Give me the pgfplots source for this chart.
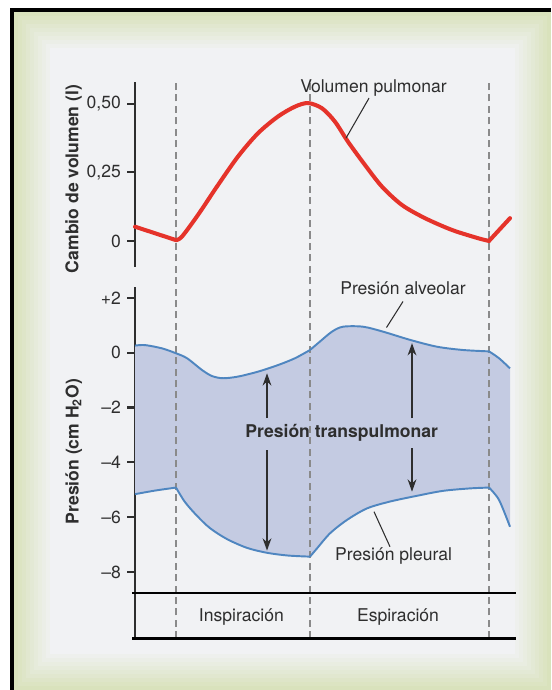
\documentclass[border=0pt]{standalone}
\usepackage{fontspec}
\setmainfont{TeX Gyre Heros}
\usepackage{pgfplots}
\pgfplotsset{compat=1.18}
\usetikzlibrary{arrows.meta}

\definecolor{redc}{HTML}{E5332A}
\definecolor{bluec}{HTML}{4F86C0}
\definecolor{fillc}{HTML}{C4CBE2}
\definecolor{bgc}{HTML}{F1F2F4}
\definecolor{bge}{HTML}{D9E2BC}
\definecolor{txt}{HTML}{2E2E2E}
\definecolor{dashc}{HTML}{8A8A8A}

\pgfplotsset{
  panel/.style={
    scale only axis, width=7.62cm,
    xmin=0, xmax=381,
    axis x line=none, axis y line*=left,
    axis line style={txt, line width=1.2pt},
    tick align=outside, major tick length=0.16cm,
    tick style={txt, line width=1.2pt},
    yticklabel style={font=\fontsize{10}{12}\selectfont, text=txt},
    ylabel style={font=\fontsize{10}{12}\selectfont\bfseries, text=txt, anchor=center},
    clip=false,
  },
}

\begin{document}
\begin{tikzpicture}
\useasboundingbox (0,0) rectangle (11.02cm,13.8cm);
\clip (0,0) rectangle (11.02cm,13.8cm);
% page background with green vignette and black frame
\begin{scope}[x=0.02cm,y=0.02cm]
\fill[white] (0,0) rectangle (551,690);
\foreach \i in {0,...,9}{
  \pgfmathtruncatemacro\p{\i*11.1}
  \fill[bgc!\p!bge] (14+\i*4,\i*4) rectangle (551-\i*4,678-\i*4);
}
\fill[black] (10,678) rectangle (551,682);
\fill[black] (10,0) rectangle (14,682);
\end{scope}

% pressure panel
\begin{axis}[panel,
  at={(2.7cm,1.034cm)}, anchor=south west, height=7.032cm,
  ymin=-10.42, ymax=2.41,
  ytick={-8,-6,-4,-2,0,2}, yticklabels={--8,--6,--4,--2,0,+2},
  ylabel={Presión (cm H\textsubscript{2}O)},
  ylabel style={at={(axis description cs:-0.161,0.531)}},
]
\addplot[fill=fillc, draw=none] coordinates {
  (0,0.26) (10,0.28) (27,0.16) (41,-0.02) (52,-0.2) (67,-0.63) (77,-0.85) (88,-0.93)
  (103,-0.87) (123,-0.69) (143,-0.45) (160,-0.2) (175,0.1) (185,0.41) (197,0.77)
  (208,0.95) (228,0.95) (248,0.77) (275,0.47) (302,0.22) (328,0.10) (354,0.05)
  (364,-0.2) (375,-0.57)
  (375,-6.35) (364,-5.37) (354,-4.92) (335,-4.95) (308,-5.04) (282,-5.22) (255,-5.43)
  (232,-5.68) (212,-6.1) (195,-6.59) (182,-7.14) (175,-7.44) (153,-7.4) (132,-7.3)
  (112,-7.12) (92,-6.8) (75,-6.4) (62,-5.95) (50,-5.45) (41,-4.92) (20,-5.03) (0,-5.16)
};
\draw[dashc, line width=0.7pt, dash pattern=on 4pt off 2.5pt] (axis cs:41,-10.42) -- (axis cs:41,10.0);
\draw[dashc, line width=0.7pt, dash pattern=on 4pt off 2.5pt] (axis cs:175,-10.42) -- (axis cs:175,10.0);
\draw[dashc, line width=0.7pt, dash pattern=on 4pt off 2.5pt] (axis cs:354,-10.42) -- (axis cs:354,10.0);
% alveolar pressure
\addplot[bluec, line width=1.1pt, smooth] coordinates {
  (0,0.26) (10,0.28) (27,0.16) (41,-0.02) (52,-0.2) (67,-0.63) (77,-0.85) (88,-0.93)
  (103,-0.87) (123,-0.69) (143,-0.45) (160,-0.2) (175,0.1)};
\addplot[bluec, line width=1.1pt, smooth] coordinates {
  (175,0.1) (185,0.41) (197,0.77) (208,0.95) (228,0.95) (248,0.77) (275,0.47)
  (302,0.22) (328,0.10) (354,0.05)};
\addplot[bluec, line width=1.1pt, smooth] coordinates {(354,0.05) (364,-0.2) (375,-0.57)};
% pleural pressure
\addplot[bluec, line width=1.1pt, smooth] coordinates {(0,-5.16) (20,-5.03) (41,-4.92)};
\addplot[bluec, line width=1.1pt, smooth] coordinates {
  (41,-4.92) (50,-5.45) (62,-5.95) (75,-6.4) (92,-6.8) (112,-7.12) (132,-7.3)
  (153,-7.4) (175,-7.44)};
\addplot[bluec, line width=1.1pt, smooth] coordinates {
  (175,-7.44) (182,-7.14) (195,-6.59) (212,-6.1) (232,-5.68) (255,-5.43) (282,-5.22)
  (308,-5.04) (335,-4.95) (354,-4.92)};
\addplot[bluec, line width=1.1pt, smooth] coordinates {(354,-4.92) (364,-5.37) (375,-6.35)};

\draw[black, line width=1.4pt] (axis cs:-3,-8.76) -- (axis cs:381,-8.76);
\draw[black, line width=1.4pt] (axis cs:-3,-10.42) -- (axis cs:381,-10.42);

\draw[txt, line width=0.9pt, -{Stealth[length=7pt,width=5pt]}] (axis cs:132,-2.39) -- (axis cs:132,-0.75);
\draw[txt, line width=0.9pt, -{Stealth[length=7pt,width=5pt]}] (axis cs:132,-3.55) -- (axis cs:132,-7.22);
\draw[txt, line width=0.9pt, -{Stealth[length=7pt,width=5pt]}] (axis cs:277,-2.39) -- (axis cs:277,0.35);
\draw[txt, line width=0.9pt, -{Stealth[length=7pt,width=5pt]}] (axis cs:277,-3.49) -- (axis cs:277,-5.07);

\node[font=\fontsize{10}{12}\selectfont\bfseries, text=txt, inner sep=0pt] at (axis cs:206.7,-2.92) {Presión transpulmonar};
\node[font=\fontsize{10}{12}\selectfont, text=txt, inner sep=0pt] at (axis cs:268,2.35) {Presión alveolar};
\draw[txt, line width=0.6pt] (axis cs:268,1.87) -- (axis cs:251.5,0.92);
\node[font=\fontsize{10}{12}\selectfont, text=txt, inner sep=0pt] at (axis cs:258.6,-7.42) {Presión pleural};
\draw[txt, line width=0.6pt] (axis cs:239,-5.8) -- (axis cs:255,-7.08);
\node[font=\fontsize{10}{12}\selectfont, text=txt, inner sep=0pt] at (axis cs:106.4,-9.63) {Inspiración};
\node[font=\fontsize{10}{12}\selectfont, text=txt, inner sep=0pt] at (axis cs:263,-9.63) {Espiración};
\end{axis}

% volume panel
\begin{axis}[panel,
  at={(2.7cm,8.466cm)}, anchor=south west, height=3.70cm,
  ymin=-0.094, ymax=0.581,
  ytick={0,0.25,0.5}, yticklabels={0,{0,25},{0,50}},
  ylabel={Cambio de volumen (l)},
  ylabel style={at={(axis description cs:-0.161,0.474)}},
]
\addplot[redc, line width=2.3pt, smooth, line cap=round] coordinates {(0,0.052) (20,0.028) (41,0.003)};
\addplot[redc, line width=2.3pt, smooth, line cap=round] coordinates {
  (41,0.003) (47,0.016) (63,0.095) (83,0.204) (103,0.308) (123,0.393) (143,0.454)
  (160,0.49) (173,0.503) (187,0.484) (200,0.435) (213,0.362) (230,0.277) (247,0.198)
  (267,0.131) (290,0.083) (317,0.040) (343,0.010) (354,0.0)};
\addplot[redc, line width=2.3pt, smooth, line cap=round] coordinates {(354,0.0) (375,0.083)};
\node[font=\fontsize{10}{12}\selectfont, text=txt, inner sep=0pt] at (axis cs:238.5,0.558) {Volumen pulmonar};
\draw[txt, line width=0.6pt] (axis cs:234,0.521) -- (axis cs:211,0.375);
\end{axis}
\end{tikzpicture}
\end{document}
